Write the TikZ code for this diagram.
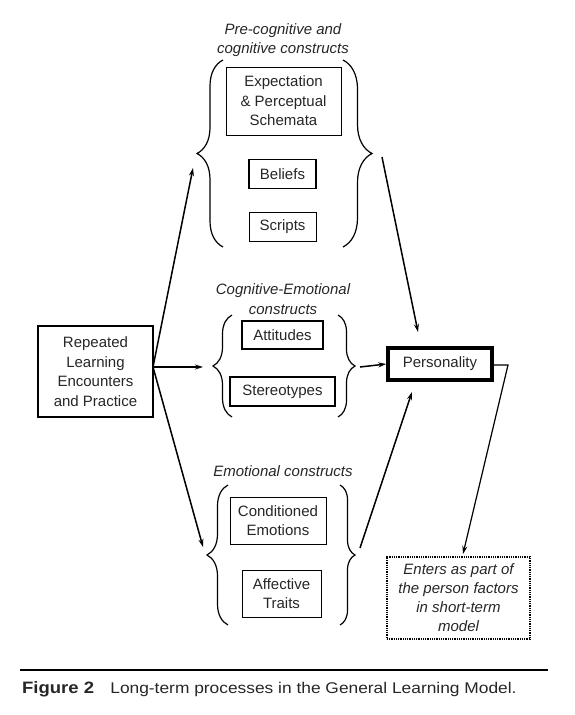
\documentclass[tikz,border=0pt]{standalone}
\usepackage{fontspec}
\setmainfont{Liberation Sans}
\newfontfamily\capfont[FakeStretch=1.12]{Liberation Sans}
\usetikzlibrary{decorations.pathreplacing,arrows.meta}
\begin{document}
\begin{tikzpicture}[x=1pt,y=-1pt,
  font=\fontsize{15}{19.5}\selectfont,
  box/.style={draw, align=center, inner sep=0pt, line width=0.8pt, text=black!85},
  arr/.style={line width=1.5pt, -{Stealth[length=8pt,width=5pt]}},
  brc/.style={decoration={brace, amplitude=#1}, decorate, line width=1.2pt},
  ttl/.style={align=center, font=\fontsize{15}{19.5}\selectfont\itshape, text=black!85}]
\useasboundingbox (0,0) rectangle (575,715);

% titles
\node[ttl] (t1) at (283,40) {Pre-cognitive and\\cognitive constructs};
\node[ttl] (t2) at (283,299) {Cognitive-Emotional\\constructs};
\node[ttl] (t3) at (283,471) {Emotional constructs};

% top group
\node[box, minimum width=115pt, minimum height=68pt] (exp) at (283.5,101) {Expectation\\\& Perceptual\\Schemata};
\node[box, line width=1.8pt, minimum width=67pt, minimum height=29pt] (bel) at (282.5,174) {Beliefs};
\node[box, minimum width=67pt, minimum height=29pt] (scr) at (282.5,226.5) {Scripts};
\draw[brc=26pt] (223,247) -- (223,60);
\draw[brc=29pt] (343,60) -- (343,247);

% middle group
\node[box, line width=1.8pt, minimum width=81pt, minimum height=28pt] (att) at (282.5,335) {Attitudes};
\node[box, line width=1.4pt, minimum width=105pt, minimum height=29pt] (ste) at (282.5,391.5) {Stereotypes};
\draw[brc=19pt] (232,417) -- (232,315);
\draw[brc=17pt] (338,315) -- (338,417);

% bottom group
\node[box, minimum width=96pt, minimum height=47pt] (con) at (278,520.5) {Conditioned\\Emotions};
\node[box, minimum width=79pt, minimum height=47pt] (aff) at (281.5,593.5) {Affective\\Traits};
\draw[brc=21pt] (228,625) -- (228,485);
\draw[brc=15pt] (340,485) -- (340,625);

% left box
\node[box, line width=1.4pt, minimum width=115pt, minimum height=91pt] (rep) at (95.5,371.5) {Repeated\\Learning\\Encounters\\and Practice};

% personality
\node[box, line width=3.5pt, minimum width=104pt, minimum height=32pt] (per) at (440,364) {Personality};

% dotted box
\node[box, line width=1.8pt, dash pattern=on 1pt off 0.8pt, minimum width=143pt, minimum height=82pt,
      font=\fontsize{15}{19}\selectfont\itshape] (ent) at (458.5,598) {Enters as part of\\the person factors\\in short-term\\model};

% coordinates
\coordinate (lo) at (153,367);
\coordinate (a1) at (193,168);
\coordinate (a2) at (203,367);
\coordinate (a3) at (203,547);
\coordinate (b1s) at (382,157);
\coordinate (b1e) at (418,332);
\coordinate (b2s) at (360,367);
\coordinate (b3s) at (360,548);
\coordinate (b3e) at (412,392);
\coordinate (pc) at (508,365);
\coordinate (pe) at (463,554);

\draw[arr] (lo) -- (a1);
\draw[arr] (lo) -- (a2);
\draw[arr] (lo) -- (a3);
\draw[arr] (b1s) -- (b1e);
\draw[arr] (b2s) -- (per.west);
\draw[arr] (b3s) -- (b3e);
\draw[arr, line width=1.2pt] (per.east |- pc) -- (pc) -- (pe);

% caption
\coordinate (c1) at (20,670);
\coordinate (c2) at (548,670);
\draw[line width=2.5pt] (c1) -- (c2);
\node[anchor=base west, inner sep=0pt, font=\capfont\fontsize{15.5}{18}\selectfont, text=black!85] (cap) at (22,693)
  {{\fontsize{16.5}{18}\selectfont\bfseries Figure 2}\hspace{1.05em}Long-term processes in the General Learning Model.};
\end{tikzpicture}
\end{document}
